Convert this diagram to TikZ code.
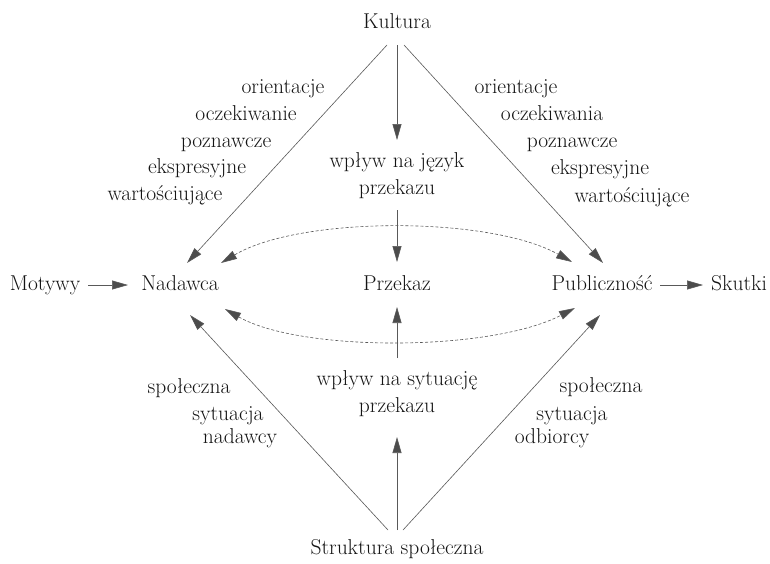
\documentclass[tikz,border=0pt]{standalone}
\usepackage{fontspec}
\setmainfont{Latin Modern Roman}
\usetikzlibrary{arrows.meta,calc}
\begin{document}
\begin{tikzpicture}[x=1pt,y=-1pt,
  every node/.style={font=\rmfamily\fontsize{21.5}{27}\selectfont, text=black!92, inner sep=0pt},
  word/.style={text height=15pt, text depth=5pt},
  twoline/.style={align=center},
  tip/.style={-{Triangle[length=16pt,width=9pt,fill=black!70]}},
  conn/.style={draw=black!65, line width=0.6pt, tip},
  dconn/.style={draw=black!65, line width=0.6pt, dash pattern=on 3pt off 2pt,
    {Triangle[length=16pt,width=9pt,fill=black!70]}-{Triangle[length=16pt,width=9pt,fill=black!70]}}
]
\fill[white] (0,0) rectangle (770,563);
\useasboundingbox (0,0) rectangle (770,563);

% main nodes
\node[word] (kul) at (397,23) {Kultura};
\node[word] (str) at (397,549) {Struktura społeczna};
\node[word] (mot) at (45,285) {Motywy};
\node[word] (nad) at (180,285) {Nadawca};
\node[word] (prz) at (397,285) {Przekaz};
\node[word] (pub) at (602,285) {Publiczność};
\node[word] (sku) at (739,285) {Skutki};
\node[twoline] (jez) at (397,176) {wpływ na język\\przekazu};
\node[twoline] (syt) at (397,394) {wpływ na sytuację\\przekazu};

% side labels, upper left
\node[word] (l1) at (283,88) {orientacje};
\node[word] (l2) at (246,115) {oczekiwanie};
\node[word] (l3) at (226,142) {poznawcze};
\node[word] (l4) at (197,168) {ekspresyjne};
\node[word] (l5) at (165,195) {wartościujące};
% upper right
\node[word] (r1) at (516,88) {orientacje};
\node[word] (r2) at (552,115) {oczekiwania};
\node[word] (r3) at (572,142) {poznawcze};
\node[word] (r4) at (600,169) {ekspresyjne};
\node[word] (r5) at (632,197) {wartościujące};
% lower left
\node[word] (bl1) at (189,388) {społeczna};
\node[word] (bl2) at (228,415) {sytuacja};
\node[word] (bl3) at (240,438) {nadawcy};
% lower right
\node[word] (br1) at (601,387) {społeczna};
\node[word] (br2) at (572,415) {sytuacja};
\node[word] (br3) at (552,438) {odbiorcy};

% connectors from Kultura
\draw[conn] ($(kul)+(-10,22)$) -- ($(nad)+(7,-22)$);
\draw[conn] ($(kul)+(7,22)$) -- ($(pub)+(1,-22)$);
\draw[conn] ($(kul)+(0,22)$) -- ($(jez)+(0,-36)$);
\draw[conn] ($(jez)+(0,34)$) -- ($(prz)+(0,-23)$);

% connectors from Struktura
\draw[conn] ($(str)+(-9,-19)$) -- ($(nad)+(10,30)$);
\draw[conn] ($(str)+(6,-19)$) -- ($(pub)+(-2,30)$);
\draw[conn] ($(str)+(0,-19)$) -- ($(syt)+(0,43)$);
\draw[conn] ($(syt)+(0,-36)$) -- ($(prz)+(0,22)$);

% horizontal
\draw[conn] ($(mot)+(43,0)$) -- ($(nad)+(-52,0)$);
\draw[conn] ($(pub)+(58,0)$) -- ($(sku)+(-36,0)$);

% dashed curves
\draw[dconn] ($(nad)+(41,-22)$) .. controls ($(nad)+(120,-69)$) and ($(pub)+(-112,-69)$) .. ($(pub)+(-30,-23)$);
\draw[dconn] ($(nad)+(45,24)$) .. controls ($(nad)+(120,67)$) and ($(pub)+(-112,67)$) .. ($(pub)+(-27,23)$);
\end{tikzpicture}
\end{document}
